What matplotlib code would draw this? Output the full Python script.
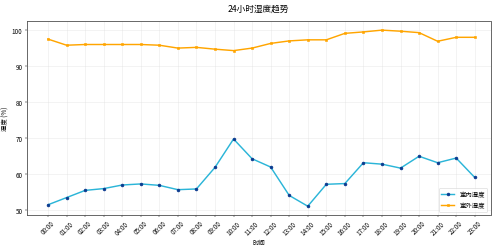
import matplotlib
matplotlib.use("Agg")
import matplotlib.pyplot as plt

plt.rcParams["font.family"] = ["Noto Sans CJK SC", "DejaVu Sans"]

hours = [f"{h:02d}:00" for h in range(24)]
indoor = [51.4, 53.4, 55.4, 55.9, 56.9, 57.2, 56.8, 55.6, 55.8, 61.8, 69.7, 64.2,
          61.9, 54.0, 51.0, 57.1, 57.3, 63.1, 62.7, 61.6, 64.9, 63.1, 64.4, 59.0]
outdoor = [97.5, 95.8, 96.0, 96.0, 96.0, 96.0, 95.8, 95.0, 95.2, 94.7, 94.3, 95.0,
           96.3, 97.0, 97.3, 97.3, 99.1, 99.5, 100.0, 99.7, 99.3, 96.9, 98.0, 98.0]

# drawn at 1200 px wide, saved at 500 px
fig, ax = plt.subplots(figsize=(12, 5.952), dpi=500 / 12)
fig.subplots_adjust(left=0.053, right=0.981, bottom=0.129, top=0.910)

x = range(len(hours))
ax.plot(x, indoor, color="#2bb5d8", linewidth=2.5, marker="o", markersize=5,
        markerfacecolor="#0b3a8f", markeredgecolor="#0b3a8f", label="室内湿度")
ax.plot(x, outdoor, color="#ffa500", linewidth=2.5, marker="s", markersize=5,
        label="室外湿度")

ax.set_xticks(list(x))
ax.set_xticklabels(hours, rotation=45, fontsize=11)
ax.tick_params(axis="y", labelsize=11)
ax.set_xlim(-1.16, 23.85)
ax.set_yticks([50, 60, 70, 80, 90, 100])

ax.set_title("24小时湿度趋势", fontsize=15, pad=18)
ax.set_xlabel("时间", fontsize=11)
ax.set_ylabel("湿度 (%)", fontsize=11)
ax.grid(True, color="#dddddd", alpha=0.6, linewidth=1)
for s in ax.spines.values():
    s.set_color("#555555")
    s.set_linewidth(1.5)

ax.legend(loc="lower right", fontsize=11)

fig.savefig("out.png", dpi=500 / 12)
